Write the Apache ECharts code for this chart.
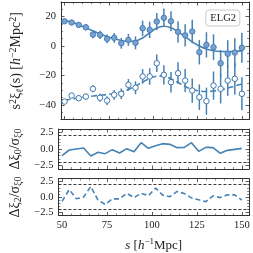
<!DOCTYPE html>
<html><head><meta charset="utf-8">
<script src="https://cdn.jsdelivr.net/npm/echarts@6/dist/echarts.min.js"></script>
<style>html,body{margin:0;padding:0;background:#fff}#c{width:253px;height:253px}</style>
</head><body><div id="c"></div>
<script>
// ---------- data ----------
const s = [50,54,58,62,66,70,74,78,82,86,90,94,98,102,106,110,114,118,122,126,130,134,138,142,146,150];
const xi0 = [16.9,16.0,14.4,12.8,7.8,7.6,4.9,5.6,1.9,4.2,2.2,12.1,11.0,16.7,19.2,16.9,9.7,7.3,9.9,-4.2,0.8,-0.8,-11.7,-5.3,-4.4,-1.2];
const xi0Err = [1.2,1.4,1.7,2.0,2.5,2.8,3.0,3.3,3.7,4.0,4.4,5.2,5.6,5.8,6.3,6.8,7.2,7.6,8.0,8.3,8.6,8.8,9.0,9.3,9.8,10.2];
const xi2 = [-37.8,-33.7,-35.5,-34.4,-29.1,-35.2,-37.1,-33.2,-32.5,-26.4,-28.4,-20.7,-20.7,-11.7,-19.6,-24.6,-18.5,-23.5,-30.3,-34.8,-37.5,-26.9,-29.1,-23.5,-22.3,-32.5];
const xi2Err = [1.5,1.7,1.9,2.1,2.4,2.7,3.0,3.3,3.6,4.0,4.4,5.0,5.6,6.0,6.5,7.0,7.4,7.8,8.3,8.7,9.2,9.6,10.0,10.4,10.8,11.2];
const model0 = [17.5,16.2,14.5,12.5,10.4,8.3,6.5,5.0,3.8,3.2,3.5,5.5,9.0,12.3,13.5,12.5,9.8,6.3,2.8,0.0,-2.0,-3.2,-3.7,-3.8,-3.7,-3.3];
const model2 = [-37.0,-36.0,-35.2,-34.5,-34.0,-33.5,-33.0,-32.3,-31.2,-29.5,-27.2,-24.5,-22.0,-20.5,-20.5,-22.3,-24.8,-27.5,-29.5,-30.6,-30.9,-30.6,-29.8,-28.6,-27.2,-25.8];
const res0 = [-1.0,-0.15,0.0,0.15,-1.05,-0.5,-0.7,-0.1,-0.6,0.05,-0.4,0.95,0.1,0.5,0.8,0.7,0.2,0.25,0.95,-0.35,0.25,0.2,-0.65,-0.2,-0.05,0.1];
const res2 = [-0.7,1.2,-0.3,0.0,1.7,-0.5,-1.2,-0.3,-0.3,0.6,-0.1,0.6,0.2,1.45,0.3,0.05,0.9,0.55,-0.15,-0.45,-0.75,0.2,-0.1,0.35,0.35,-0.5];
const xTicks = [50,75,100,125,150];
const mainYTicks = [-40,-20,0,20];
const resYTicks = [-2.5,0,2.5];
const resThresholds = [-2,2];
const tagLabel = 'ELG2';

// ---------- style ----------
const FONT = 'Liberation Serif';
const AX = '#333';
const C = '#4682b4';
const FILL = '#78a3d1';
const EDGE = '#3f77b0';

function range(a,b,st){const r=[];for(let v=a;v<=b+1e-9;v+=st)r.push(+v.toFixed(3));return r;}
function minors(all,majors){return all.filter(v=>!majors.some(m=>Math.abs(m-v)<1e-6));}

const grids = [
  {left:48, top:2, width:201, height:117.5},
  {left:48, top:129, width:201, height:40},
  {left:48, top:178.5, width:201, height:40}
];
const yR = [[-50,30],[-3,3],[-3,3]];
const yMaj = [mainYTicks, resYTicks, resYTicks];
const yMin = [minors(range(-50,30,5),mainYTicks), minors(range(-3,3,0.5),resYTicks), minors(range(-3,3,0.5),resYTicks)];
const xMin = minors(range(50,150,5), xTicks);

const fmtMain = v => (v<0?'\u2212':'') + Math.abs(v);
const fmtRes = v => (v<0?'\u2212':'') + Math.abs(v).toFixed(1);

const rich = {
  r:{fontFamily:FONT,fontSize:14,color:'#222',lineHeight:17},
  i:{fontFamily:FONT,fontSize:14,fontStyle:'italic',color:'#222',lineHeight:17},
  sup:{fontFamily:FONT,fontSize:10,color:'#222',verticalAlign:'top',lineHeight:17},
  sub:{fontFamily:FONT,fontSize:10,color:'#222',verticalAlign:'bottom',lineHeight:17}
};
const richX = {
  r:{fontFamily:FONT,fontSize:13,color:'#222',lineHeight:16},
  i:{fontFamily:FONT,fontSize:13,fontStyle:'italic',color:'#222',lineHeight:16},
  sup:{fontFamily:FONT,fontSize:9,color:'#222',verticalAlign:'top',lineHeight:16}
};
const yNames = [
  '{r|s}{sup|2}{r|\u03be}{sub|\u2113}{r|(s) [}{i|h}{sup|\u22122}{r|Mpc}{sup|2}{r|]}',
  '{r|\u0394\u03be}{sub|0}{r|/\u03c3}{sub|\u03be0}',
  '{r|\u0394\u03be}{sub|2}{r|/\u03c3}{sub|\u03be0}'
];
const yGaps = [36, 34, 34];

const xAxes=[], yAxes=[];
grids.forEach((g,gi)=>{
  const base = {gridIndex:gi,type:'value',min:48,max:154,splitLine:{show:false}};
  xAxes.push(Object.assign({},base,{position:'bottom',
    axisLine:{show:true,onZero:false,lineStyle:{color:AX,width:1}},
    axisTick:{show:true,inside:true,length:3.5,customValues:xTicks,lineStyle:{color:AX,width:0.8}},
    axisLabel:{show:gi===2,customValues:xTicks,fontFamily:FONT,fontSize:10.5,color:'#222',margin:4},
    name: gi===2 ? '{i|s}{r| [}{i|h}{sup|\u22121}{r|Mpc]}' : '',
    nameLocation:'middle', nameGap:22, nameTextStyle:{rich:richX}
  }));
  xAxes.push(Object.assign({},base,{position:'bottom',axisLine:{show:false,onZero:false},
    axisTick:{show:true,inside:true,length:2,customValues:xMin,lineStyle:{color:AX,width:0.6}},axisLabel:{show:false}}));
  xAxes.push(Object.assign({},base,{position:'top',
    axisLine:{show:true,onZero:false,lineStyle:{color:AX,width:1}},
    axisTick:{show:true,inside:true,length:3.5,customValues:xTicks,lineStyle:{color:AX,width:0.8}},axisLabel:{show:false}}));
  xAxes.push(Object.assign({},base,{position:'top',axisLine:{show:false,onZero:false},
    axisTick:{show:true,inside:true,length:2,customValues:xMin,lineStyle:{color:AX,width:0.6}},axisLabel:{show:false}}));

  const yb = {gridIndex:gi,type:'value',min:yR[gi][0],max:yR[gi][1],splitLine:{show:false}};
  yAxes.push(Object.assign({},yb,{position:'left',
    axisLine:{show:true,onZero:false,lineStyle:{color:AX,width:1}},
    axisTick:{show:true,inside:true,length:3.5,customValues:yMaj[gi],lineStyle:{color:AX,width:0.8}},
    axisLabel:{show:true,customValues:yMaj[gi],fontFamily:FONT,fontSize:10.5,color:'#222',margin:5,
      formatter: gi===0?fmtMain:fmtRes},
    name:yNames[gi], nameLocation:'middle', nameGap:yGaps[gi], nameTextStyle:{rich:rich}
  }));
  yAxes.push(Object.assign({},yb,{position:'left',axisLine:{show:false,onZero:false},
    axisTick:{show:true,inside:true,length:2,customValues:yMin[gi],lineStyle:{color:AX,width:0.6}},axisLabel:{show:false}}));
  yAxes.push(Object.assign({},yb,{position:'right',
    axisLine:{show:true,onZero:false,lineStyle:{color:AX,width:1}},
    axisTick:{show:true,inside:true,length:3.5,customValues:yMaj[gi],lineStyle:{color:AX,width:0.8}},axisLabel:{show:false}}));
  yAxes.push(Object.assign({},yb,{position:'right',axisLine:{show:false,onZero:false},
    axisTick:{show:true,inside:true,length:2,customValues:yMin[gi],lineStyle:{color:AX,width:0.6}},axisLabel:{show:false}}));
});

function errSeries(vals, errs){
  return {type:'custom', xAxisIndex:0, yAxisIndex:0, z:3, silent:true,
    encode:{x:0,y:[1,2]},
    data: s.map((x,i)=>[x, vals[i]-errs[i], vals[i]+errs[i]]),
    renderItem:(params, api)=>{
      const a = api.coord([api.value(0), api.value(1)]);
      const b = api.coord([api.value(0), api.value(2)]);
      return {type:'line', shape:{x1:a[0],y1:a[1],x2:b[0],y2:b[1]}, style:{stroke:C,lineWidth:1.5}};
    }};
}
const pair = arr => s.map((x,i)=>[x, arr[i]]);

const series = [
  {type:'line', xAxisIndex:0, yAxisIndex:0, data:pair(model0), smooth:0.4, symbol:'none', z:2,
    lineStyle:{color:C,width:1.6}},
  {type:'line', xAxisIndex:0, yAxisIndex:0, data:pair(model2), smooth:0.4, symbol:'none', z:2,
    lineStyle:{color:C,width:1.6,type:[6,3]}},
  errSeries(xi0, xi0Err),
  errSeries(xi2, xi2Err),
  {type:'scatter', xAxisIndex:0, yAxisIndex:0, data:pair(xi0), symbol:'circle', symbolSize:5.5, z:4,
    itemStyle:{color:FILL,borderColor:EDGE,borderWidth:0.9,opacity:1}},
  {type:'scatter', xAxisIndex:0, yAxisIndex:0, data:pair(xi2), symbol:'circle', symbolSize:5.5, z:4,
    itemStyle:{color:'#fff',borderColor:EDGE,borderWidth:1,opacity:1}},
  {type:'line', xAxisIndex:4, yAxisIndex:4, data:pair(res0), symbol:'none', z:3,
    lineStyle:{color:C,width:1.6},
    markLine:{silent:true,symbol:'none',label:{show:false},lineStyle:{color:'#222',type:[3,2],width:0.9},
      data:resThresholds.map(v=>({yAxis:v}))}},
  {type:'line', xAxisIndex:8, yAxisIndex:8, data:pair(res2), symbol:'none', z:3,
    lineStyle:{color:C,width:1.6,type:[5,3]},
    markLine:{silent:true,symbol:'none',label:{show:false},lineStyle:{color:'#222',type:[3,2],width:0.9},
      data:resThresholds.map(v=>({yAxis:v}))}}
];

const chart = echarts.init(document.getElementById('c'), null, {renderer:'canvas'});
chart.setOption({
  animation:false,
  backgroundColor:'#fff',
  textStyle:{fontFamily:FONT},
  title:{text:tagLabel, right:12.5, top:9.5, padding:[3,4.5], borderColor:'#ccc', borderWidth:1, borderRadius:3,
    backgroundColor:'#fff', textStyle:{fontFamily:FONT,fontSize:10.5,fontWeight:'normal',color:'#222'}},
  grid:grids,
  xAxis:xAxes,
  yAxis:yAxes,
  series:series
});
</script></body></html>
